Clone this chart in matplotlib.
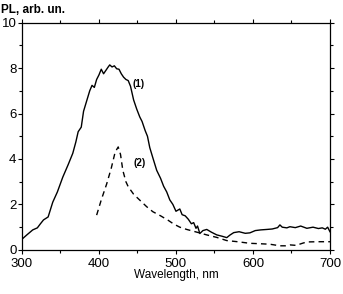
import numpy as np
import matplotlib.pyplot as plt
from matplotlib.ticker import MultipleLocator

plt.rcParams['font.family'] = ['Liberation Sans', 'DejaVu Sans']

# curve (1), solid
wl1 = [300, 306, 314, 320, 324, 328, 334, 340, 346, 353, 360, 366, 370, 373, 377,
       380, 384, 388, 391, 394, 397, 400, 403, 406, 409, 412, 414, 417, 420, 423,
       426, 429, 432, 435, 438, 441, 445, 449, 453, 456, 460, 463, 466, 470, 475,
       480, 484, 488, 492, 496, 500, 505, 508, 512, 516, 520, 523, 526, 528, 531,
       535, 540, 546, 553, 560, 566, 570, 575, 582, 590, 596, 603, 610, 618, 625,
       632, 635, 638, 644, 648, 655, 662, 670, 678, 685, 690, 694, 697, 700]
pl1 = [0.47, 0.65, 0.88, 0.97, 1.15, 1.32, 1.45, 2.1, 2.55, 3.2, 3.75, 4.25, 4.75, 5.2, 5.4,
       6.1, 6.55, 7.0, 7.24, 7.15, 7.5, 7.7, 7.95, 7.75, 7.9, 8.05, 8.14, 8.05, 8.1, 7.97,
       7.95, 7.75, 7.6, 7.5, 7.45, 7.2, 6.6, 6.2, 5.85, 5.65, 5.25, 5.0, 4.5, 4.05, 3.5,
       3.15, 2.8, 2.55, 2.2, 2.0, 1.7, 1.8, 1.55, 1.5, 1.35, 1.15, 1.2, 0.95, 1.05, 0.72,
       0.85, 0.9, 0.78, 0.66, 0.6, 0.54, 0.65, 0.76, 0.8, 0.73, 0.75, 0.85, 0.88, 0.9, 0.92,
       0.98, 1.1, 1.0, 0.97, 1.02, 0.98, 1.05, 0.95, 1.0, 0.94, 0.97, 0.91, 1.0, 0.8]

# curve (2), dashed
wl2 = [397, 403, 410, 416, 421, 425, 428, 431, 435, 438, 445, 453, 462, 470, 480,
       490, 497, 505, 514, 525, 540, 553, 566, 580, 596, 610, 622, 635, 642, 648,
       656, 665, 670, 685, 700]
pl2 = [1.53, 2.2, 2.9, 3.6, 4.3, 4.53, 4.2, 3.5, 3.0, 2.78, 2.45, 2.19, 1.9, 1.68, 1.5,
       1.3, 1.14, 1.0, 0.9, 0.8, 0.66, 0.55, 0.41, 0.36, 0.29, 0.27, 0.25, 0.18, 0.18, 0.22,
       0.2, 0.3, 0.35, 0.36, 0.36]

fig = plt.figure(figsize=(3.43, 2.94), dpi=100)
ax = fig.add_axes([0.064, 0.150, 0.898, 0.773])

ax.plot(wl1, pl1, color='black', lw=1.0)
ax.plot(wl2, pl2, color='black', lw=1.0, ls=(0, (4, 3)))

ax.set_xlim(300, 700)
ax.set_ylim(0, 10)
ax.xaxis.set_major_locator(MultipleLocator(100))
ax.xaxis.set_minor_locator(MultipleLocator(50))
ax.yaxis.set_major_locator(MultipleLocator(2))
ax.yaxis.set_minor_locator(MultipleLocator(1))
ax.tick_params(which='both', direction='out', top=True, right=True, width=0.8, labelsize=9.5)
ax.tick_params(axis='y', pad=1)
ax.tick_params(axis='x', pad=3)
ax.tick_params(which='major', length=3)
ax.tick_params(which='minor', length=2)
for s in ax.spines.values():
    s.set_linewidth(0.9)

ax.text(444, 7.3, '(1)', fontsize=7, fontweight='bold', va='center')
ax.text(445, 3.82, '(2)', fontsize=7, fontweight='bold', va='center')

fig.text(0.003, 0.985, 'PL, arb. un.', fontsize=8.5, fontweight='bold', va='top', ha='left')
fig.text(0.513, 0.045, 'Wavelength, nm', fontsize=8.5, ha='center', va='bottom')

fig.savefig('out.png', dpi=100)
